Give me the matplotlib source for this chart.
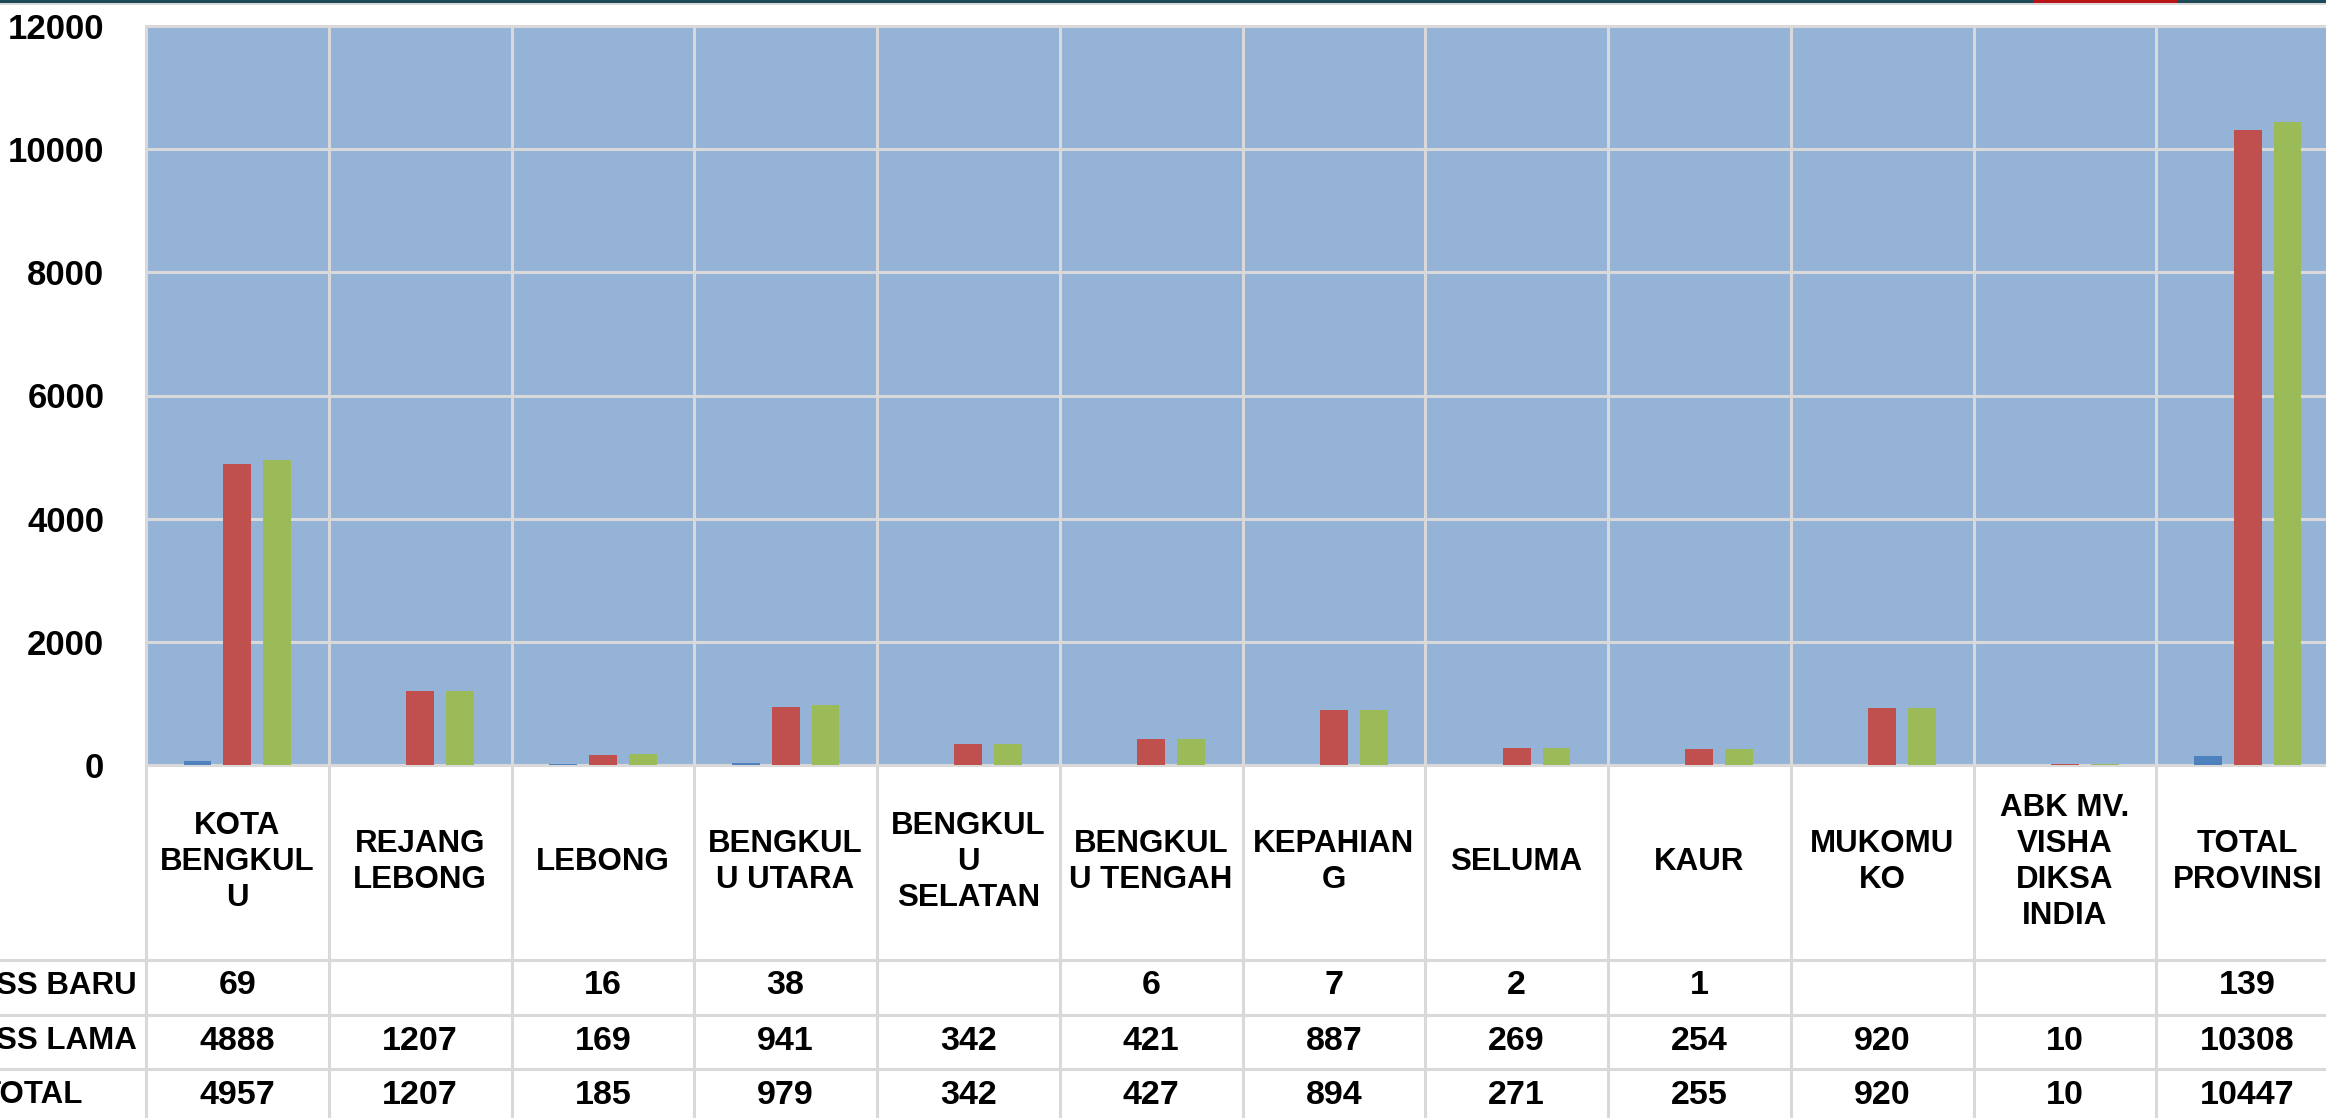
import numpy as np
import matplotlib
matplotlib.use("Agg")
import matplotlib.pyplot as plt
import matplotlib.transforms as mtransforms
from matplotlib.lines import Line2D
from matplotlib.patches import Rectangle

categories = ["KOTA\nBENGKUL\nU", "REJANG\nLEBONG", "LEBONG", "BENGKUL\nU UTARA",
              "BENGKUL\nU\nSELATAN", "BENGKUL\nU TENGAH", "KEPAHIAN\nG", "SELUMA",
              "KAUR", "MUKOMU\nKO", "ABK MV.\nVISHA\nDIKSA\nINDIA", "TOTAL\nPROVINSI"]
row_labels = ["SS BARU", "SS LAMA", "TOTAL"]
ss_baru = [69, None, 16, 38, None, 6, 7, 2, 1, None, None, 139]
ss_lama = [4888, 1207, 169, 941, 342, 421, 887, 269, 254, 920, 10, 10308]
total = [4957, 1207, 185, 979, 342, 427, 894, 271, 255, 920, 10, 10447]
yticks = [0, 2000, 4000, 6000, 8000, 10000, 12000]

colors = ["#4F81BD", "#C0504D", "#9BBB59"]
grid_c = "#D9D9D9"

plt.rcParams['font.family'] = ['Liberation Sans', 'DejaVu Sans']
plt.rcParams['font.weight'] = 'bold'

W, H = 2326, 1118
fig = plt.figure(figsize=(W / 100, H / 100), dpi=100)

# plot area (pixel layout of the reference)
left, top, bottom, right = 146, 26, 765, 2339
ax = fig.add_axes([left / W, 1 - bottom / H, (right - left) / W, (bottom - top) / H])
ax.set_facecolor("#95B3D7")

x = np.arange(len(categories))
series = [ss_baru, ss_lama, total]
offsets = [-0.218, 0, 0.218]
for vals, off, c in zip(series, offsets, colors):
    v = np.array([np.nan if s is None else s for s in vals], dtype=float)
    ax.bar(x + off, v, width=0.152, color=c, zorder=3)

ax.set_xlim(-0.5, len(categories) - 0.5)
ax.set_ylim(0, 12000)
ax.set_yticks(yticks)
ax.set_yticklabels([str(t) for t in yticks], fontsize=25, fontweight='bold')
ax.set_xticks([])
ax.set_xticks(np.arange(len(categories) + 1) - 0.5, minor=True)
ax.tick_params(axis='y', length=0, pad=30)
ax.tick_params(axis='x', which='both', length=0, labelbottom=False)
ax.grid(True, axis='y', color=grid_c, linewidth=2.2, zorder=1)
ax.grid(True, axis='x', which='minor', color=grid_c, linewidth=2.2, zorder=1)
for s in ax.spines.values():
    s.set_color(grid_c)
    s.set_linewidth(2.2)

# data table under the chart
trans = mtransforms.blended_transform_factory(ax.transData, fig.transFigure)


def fy(py):
    return 1 - py / H


# vertical table lines
for b in np.arange(len(categories) + 1) - 0.5:
    fig.add_artist(Line2D([b, b], [fy(765), fy(1125)], transform=trans,
                          color=grid_c, linewidth=2.2))
# horizontal table lines
for py in [960, 1015, 1069]:
    fig.add_artist(Line2D([0, 1], [fy(py), fy(py)], transform=fig.transFigure,
                          color=grid_c, linewidth=2.2))

for i, cat in enumerate(categories):
    fig.text(i, fy(862), cat, transform=trans, ha='center', va='center',
             fontsize=22.5, fontweight='bold', linespacing=1.26)

row_y = [986, 1041, 1095]
row_x = [-4, -4, -18]
for vals, lab, py, px in zip(series, row_labels, row_y, row_x):
    fig.text(px / W, fy(py), lab, ha='left', va='center',
             fontsize=22.5, fontweight='bold')
    for i, v in enumerate(vals):
        if v is None:
            continue
        fig.text(i, fy(py), str(v), transform=trans, ha='center', va='center',
                 fontsize=24.5, fontweight='bold')

# thin header band at the very top
fig.add_artist(Rectangle((0, fy(3)), 1, 3 / H, transform=fig.transFigure,
                         color="#1E4A57", linewidth=0))
fig.add_artist(Rectangle((2033 / W, fy(3)), 144 / W, 3 / H, transform=fig.transFigure,
                         color="#B81418", linewidth=0))
fig.add_artist(Rectangle((0, fy(5)), 1, 2 / H, transform=fig.transFigure,
                         color="#DADADA", linewidth=0))

fig.savefig("out.png", dpi=100)
